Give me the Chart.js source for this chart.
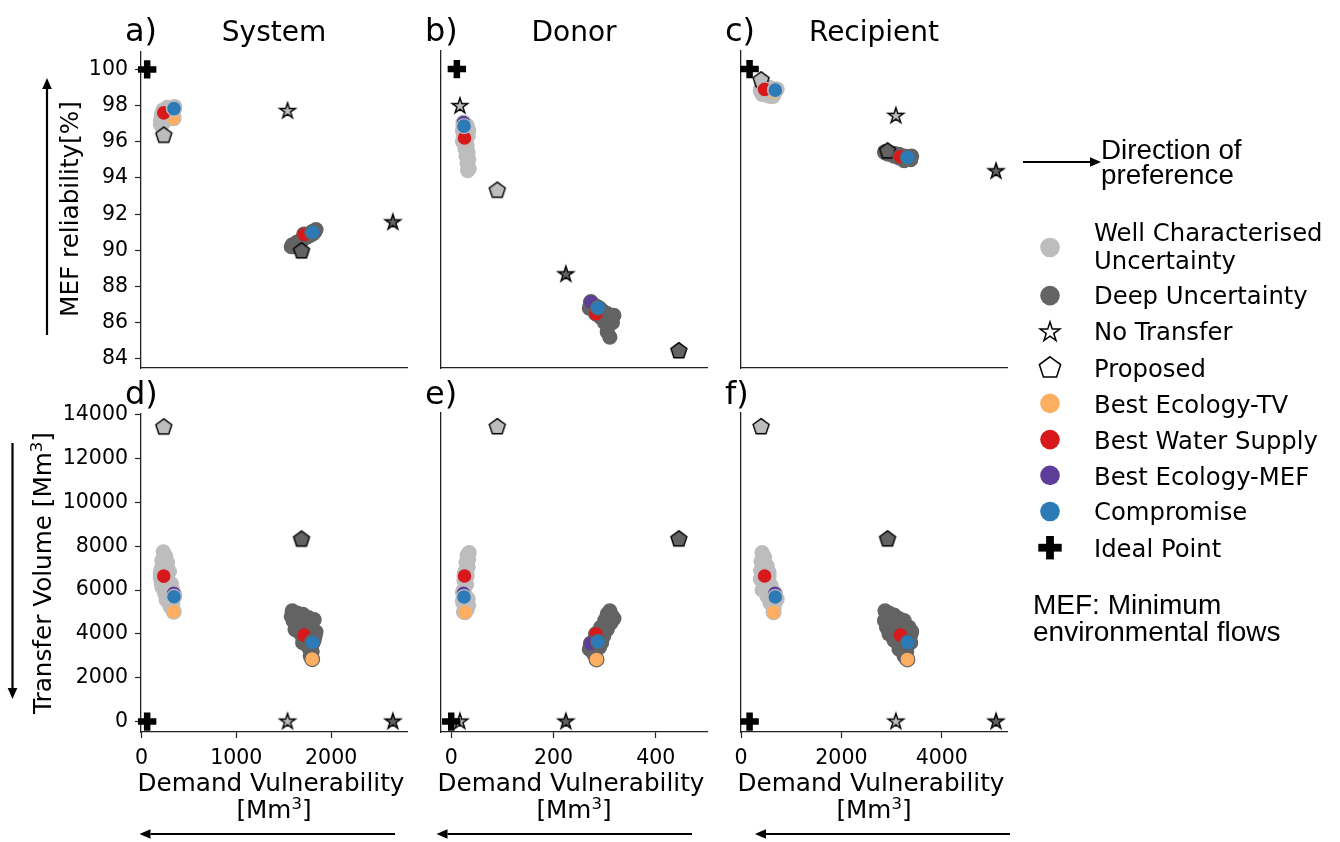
<!DOCTYPE html>
<html><head><meta charset="utf-8">
<script src="https://cdn.jsdelivr.net/npm/chart.js@4.4.1/dist/chart.umd.min.js"></script>
<style>
html,body{margin:0;padding:0;background:#fff;}
body{width:1340px;height:842px;position:relative;overflow:hidden;}
canvas.p{position:absolute;}
svg#ov{position:absolute;left:0;top:0;pointer-events:none;}
</style></head><body>
<canvas id="pa" class="p"></canvas><canvas id="pb" class="p"></canvas><canvas id="pc" class="p"></canvas>
<canvas id="pd" class="p"></canvas><canvas id="pe" class="p"></canvas><canvas id="pf" class="p"></canvas>
<svg id="ov" width="1340" height="842" font-family="DejaVu Sans"></svg>
<script>
// ---------------- tick labels ----------------
const mefTicks = [84, 86, 88, 90, 92, 94, 96, 98, 100];
const tvTicks = [0, 2000, 4000, 6000, 8000, 10000, 12000, 14000];
const systemTicks = [0, 1000, 2000];
const donorTicks = [0, 200, 400];
const recipientTicks = [0, 2000, 4000];

// ---------------- data: [demand vulnerability, MEF reliability %, transfer volume] ----------------
const systemWellChar = [[230,97.05,7750],[255,97.2,7550],[215,96.95,7350],[275,97.35,7250],[205,96.9,6950],[225,97.75,6900],[295,97.45,6850],[200,97.2,6750],[200,96.95,6550],[255,97.3,6450],[210,97.5,6300],[315,97.65,6300],[215,97.15,6150],[330,97.75,6000],[245,97.45,5850],[350,97.95,5750],[270,97.9,5700],[260,97.6,5550],[330,97.85,5400],[300,97.8,5250],[340,97.7,5050]];
const systemDeep = [[1590,90.3,5050],[1580,90.2,4800],[1640,90.45,4950],[1700,90.6,4900],[1760,90.8,4750],[1820,91.0,4650],[1600,90.2,4600],[1650,90.4,4400],[1720,90.7,4500],[1800,90.9,4300],[1840,91.15,4100],[1620,90.25,4200],[1680,90.5,4000],[1750,90.75,3800],[1830,91.05,3900],[1700,90.6,3600],[1820,91.0,3700],[1760,90.8,3400],[1800,90.9,3200],[1780,90.85,3000]];
const systemNoTransfer = [[1540,97.7,0],[2651,91.55,0]];
const systemProposed = [[235,96.35,13436],[1688,89.96,8318]];
const systemBestTV = [[340,97.3,5010],[1800,90.95,2850]];
const systemBestWS = [[235,97.6,6640],[1715,90.88,3944]];
const systemBestMEF = [[340,97.88,5850],[1800,91.0,3650]];
const systemCompromise = [[343,97.83,5695],[1805,91.0,3610]];
const systemIdealMEF = [60, 100];
const systemIdealTV = [60, 0];

const donorWellChar = [[24,97.0,5000],[31,96.9,5100],[26,96.8,5250],[23,96.9,5400],[34,96.6,5300],[22,96.6,5500],[33,96.3,5600],[28,96.5,5750],[22,96.0,5900],[24,96.3,6000],[30,96.2,6250],[25,96.0,6450],[31,95.8,6650],[26,96.1,6700],[27,95.6,6850],[33,95.4,7050],[29,95.2,7250],[34,95.0,7400],[31,94.8,7550],[32,94.4,7600],[35,94.5,7700]];
const donorDeep = [[310,85.2,5050],[305,85.5,4900],[315,86.0,4800],[318,86.4,4700],[300,86.0,4600],[312,86.3,4500],[300,86.2,4400],[292,86.3,4300],[305,86.5,4200],[285,86.6,4000],[298,86.6,3900],[280,86.9,3700],[294,86.7,3600],[272,87.0,3500],[290,86.8,3400],[284,86.9,3300],[270,86.8,3300],[278,87.0,3100]];
const donorNoTransfer = [[17,97.96,0],[224,88.67,0]];
const donorProposed = [[90,93.3,13436],[445,84.44,8318]];
const donorBestTV = [[27,96.15,4982],[284,86.6,2834]];
const donorBestWS = [[26,96.2,6640],[283,86.5,3990]];
const donorBestMEF = [[24,97.05,5850],[273,87.14,3565]];
const donorCompromise = [[25,96.85,5680],[287,86.83,3638]];
const donorIdealMEF = [11, 100];
const donorIdealTV = [0, 0];

const recipientWellChar = [[420,98.9,7700],[470,98.9,7500],[400,98.95,7300],[520,98.85,7100],[390,98.9,6900],[560,98.8,6800],[560,99.0,6600],[385,98.8,6500],[480,98.75,6300],[600,98.7,6200],[420,98.6,6000],[640,98.7,5900],[520,98.55,5700],[720,98.9,5600],[700,98.8,5500],[580,98.5,5400],[660,98.6,5200],[640,98.5,5000]];
const recipientDeep = [[2870,95.45,5050],[2950,95.4,4950],[3050,95.35,4850],[3150,95.3,4700],[2860,95.4,4600],[3250,95.2,4600],[3000,95.3,4500],[2900,95.35,4300],[3350,95.1,4300],[3100,95.25,4200],[3400,95.2,4100],[2950,95.3,4000],[3380,95.05,3950],[3200,95.15,3900],[3050,95.2,3700],[3380,95.0,3600],[3250,95.1,3500],[3150,95.1,3300],[3300,95.0,3200],[3250,94.95,3000]];
const recipientNoTransfer = [[3085,97.42,0],[5081,94.36,0]];
const recipientProposed = [[400,99.39,13436],[2920,95.47,8318]];
const recipientBestTV = [[650,98.72,4982],[3316,95.05,2834]];
const recipientBestWS = [[470,98.88,6640],[3175,95.16,3944]];
const recipientBestMEF = [[676,98.88,5850],[3330,95.12,3560]];
const recipientCompromise = [[683,98.84,5680],[3323,95.12,3610]];
const recipientIdealMEF = [171, 100];
const recipientIdealTV = [171, 0];

// ---------------- styling ----------------
const LIGHT = '#bdbdbd', DARK = '#636363';
const C_TV = '#fdae61', C_WS = '#d7191c', C_MEF = '#5e3c99', C_COMP = '#2c7bb6';
Chart.defaults.font.family = 'DejaVu Sans';
Chart.defaults.color = '#000';

function starPts(cx, cy, r) {
  const pts = [];
  for (let i = 0; i < 10; i++) {
    const a = -Math.PI / 2 + i * Math.PI / 5;
    const rr = i % 2 === 0 ? r : r * 0.381966;
    pts.push([cx + rr * Math.cos(a), cy + rr * Math.sin(a)]);
  }
  return pts;
}
function pentPts(cx, cy, r) {
  const pts = [];
  for (let i = 0; i < 5; i++) {
    const a = -Math.PI / 2 + i * 2 * Math.PI / 5;
    pts.push([cx + r * Math.cos(a), cy + r * Math.sin(a)]);
  }
  return pts;
}
function markerCanvas(kind, fill, r, lw) {
  const s = Math.ceil(2 * r + 2 * lw + 4);
  const c = document.createElement('canvas');
  c.width = s; c.height = s;
  const ctx = c.getContext('2d');
  const pts = kind === 'star' ? starPts(s / 2, s / 2, r) : pentPts(s / 2, s / 2, r);
  ctx.beginPath();
  pts.forEach((p, i) => i ? ctx.lineTo(p[0], p[1]) : ctx.moveTo(p[0], p[1]));
  ctx.closePath();
  ctx.fillStyle = fill; ctx.fill();
  ctx.lineWidth = lw; ctx.strokeStyle = '#000'; ctx.lineJoin = 'miter'; ctx.stroke();
  return c;
}
const starLight = markerCanvas('star', LIGHT, 8.3, 1.4), starDark = markerCanvas('star', DARK, 8.3, 1.4);
const pentLight = markerCanvas('pent', LIGHT, 8.4, 1.4), pentDark = markerCanvas('pent', DARK, 8.4, 1.4);

const cols = [
  {name:'System', min:-5, max:2800, ticks:systemTicks, wc:systemWellChar, du:systemDeep, nt:systemNoTransfer, pr:systemProposed,
   tv:systemBestTV, ws:systemBestWS, mef:systemBestMEF, comp:systemCompromise, idealTop:systemIdealMEF, idealBot:systemIdealTV, l:141, r:407},
  {name:'Donor', min:-20, max:500, ticks:donorTicks, wc:donorWellChar, du:donorDeep, nt:donorNoTransfer, pr:donorProposed,
   tv:donorBestTV, ws:donorBestWS, mef:donorBestMEF, comp:donorCompromise, idealTop:donorIdealMEF, idealBot:donorIdealTV, l:441, r:707},
  {name:'Recipient', min:0, max:5300, ticks:recipientTicks, wc:recipientWellChar, du:recipientDeep, nt:recipientNoTransfer, pr:recipientProposed,
   tv:recipientBestTV, ws:recipientBestWS, mef:recipientBestMEF, comp:recipientCompromise, idealTop:recipientIdealMEF, idealBot:recipientIdealTV, l:741, r:1007}
];
const rows = [
  {key:1, t:51, b:368, min:83.5, max:101.0, ticks:mefTicks},
  {key:2, t:413, b:732, min:-475, max:14070, ticks:tvTicks}
];
const ids = [['pa','pb','pc'],['pd','pe','pf']];

function panelConfig(ri, ci, PL, PB, PT, PR) {
  const col = cols[ci], row = rows[ri];
  const pick = arr => arr.map(p => ({x: p[0], y: p[row.key]}));
  const ideal = ri === 0 ? col.idealTop : col.idealBot;
  const coloured = (arr, color, ord) => ({data: pick(arr), pointStyle:'circle', pointRadius:7.4, pointBorderWidth:1.2,
    pointBackgroundColor: color, pointBorderColor: [LIGHT, DARK], order: ord, clip:false});
  const datasets = [
    {data:[{x: ideal[0], y: ideal[1]}], pointStyle:'cross', pointRadius:9.2, pointBorderWidth:6.5, pointBorderColor:'#000', pointBackgroundColor:'#000', order:0, clip:false},
    coloured(col.comp, C_COMP, 1),
    coloured(col.mef, C_MEF, 2),
    coloured(col.ws, C_WS, 3),
    coloured(col.tv, C_TV, 4),
    {data: pick(col.pr), pointStyle:[pentLight, pentDark], pointRadius:8, order:5, clip:false},
    {data: pick(col.nt), pointStyle:[starLight, starDark], pointRadius:8, order:6, clip:false},
    {data: pick(col.du), pointStyle:'circle', pointRadius:7.6, pointBorderWidth:0, pointBackgroundColor:DARK, pointBorderColor:DARK, order:7, clip:false},
    {data: pick(col.wc), pointStyle:'circle', pointRadius:7.6, pointBorderWidth:0, pointBackgroundColor:LIGHT, pointBorderColor:LIGHT, order:8, clip:false}
  ];
  const showX = ri === 1, showY = ci === 0;
  const axisCommon = (show, tickArr) => ({
    type:'linear',
    afterBuildTicks: s => { s.ticks = tickArr.map(v => ({value: v})); },
    ticks:{display:show, font:{size:20.5}, color:'#000', callback: v => String(v), autoSkip:false, maxRotation:0, minRotation:0},
    grid:{display:show, drawOnChartArea:false, drawTicks:true, tickLength:6, color:'#222', tickColor:'#222', tickWidth:1.2},
    border:{display:true, color:'#222', width:1.3}
  });
  const xs = axisCommon(showX, col.ticks);
  xs.min = col.min; xs.max = col.max; xs.ticks.padding = 8;
  xs.afterFit = s => { s.height = PB; };
  const ys = axisCommon(showY, row.ticks);
  ys.min = row.min; ys.max = row.max; ys.ticks.padding = 7;
  ys.afterFit = s => { s.width = PL; };
  return {
    type:'scatter',
    data:{datasets},
    options:{
      responsive:false, animation:false, devicePixelRatio:1, events:[],
      layout:{padding:{left:0, top:PT, right:PR, bottom:0}, autoPadding:false},
      plugins:{legend:{display:false}, tooltip:{enabled:false}},
      scales:{x:xs, y:ys}
    }
  };
}

function makePanel(ri, ci) {
  const col = cols[ci], row = rows[ri];
  const PL = 100, PT = 14, PR = 16, PB = 60;
  const cv = document.getElementById(ids[ri][ci]);
  const aw = col.r - col.l, ah = row.b - row.t;
  let w = aw + PL + PR, h = ah + PT + PB;
  cv.width = w; cv.height = h;
  // first pass: measure where the library puts the plot area
  let ch = new Chart(cv, panelConfig(ri, ci, PL, PB, PT, PR));
  const ca = ch.chartArea;
  const padL = ca.left, padT = ca.top, padR = w - ca.right, padB = h - ca.bottom;
  ch.destroy();
  w = Math.round(padL + aw + padR); h = Math.round(padT + ah + padB);
  cv.width = w; cv.height = h;
  cv.style.width = w + 'px'; cv.style.height = h + 'px';
  cv.style.left = (col.l - padL) + 'px'; cv.style.top = (row.t - padT) + 'px';
  new Chart(cv, panelConfig(ri, ci, PL, PB, PT, PR));
}
for (let ri = 0; ri < 2; ri++) for (let ci = 0; ci < 3; ci++) makePanel(ri, ci);

// ---------------- text, arrows and legend (SVG overlay) ----------------
const svg = document.getElementById('ov');
let s = '';
const T = (x, y, str, size, extra) => { s += `<text x="${x}" y="${y}" font-size="${size}" fill="#000" ${extra || ''}>${str}</text>`; };
const letters = [['a)','b)','c)'],['d)','e)','f)']];
const sup = '[Mm<tspan dy="-9" font-size="16.5">3</tspan><tspan dy="9">]</tspan>';
cols.forEach((c, ci) => {
  const cx = (c.l + c.r) / 2;
  T(c.l - 16, 40.5, letters[0][ci], 32);
  T(c.l - 16, 404, letters[1][ci], 32);
  T(cx, 40.5, c.name, 28, 'text-anchor="middle"');
  T(cx - 3, 790.5, 'Demand Vulnerability', 24.7, 'text-anchor="middle"');
  T(cx, 818, sup, 24.7, 'text-anchor="middle"');
});
T(0, 0, 'MEF reliability[%]', 24.7, 'text-anchor="middle" transform="translate(77.5,209) rotate(-90)"');
T(0, 0, 'Transfer Volume ' + sup, 24.7, 'text-anchor="middle" transform="translate(51,573) rotate(-90)"');

function arrow(x1, y1, x2, y2) {
  const dx = x2 - x1, dy = y2 - y1, L = Math.hypot(dx, dy), ux = dx / L, uy = dy / L;
  const hl = 11, hw = 4.8;
  const bx = x2 - ux * hl, by = y2 - uy * hl;
  s += `<line x1="${x1}" y1="${y1}" x2="${bx}" y2="${by}" stroke="#000" stroke-width="2.2"/>`;
  s += `<polygon points="${x2},${y2} ${bx - uy * hw},${by + ux * hw} ${bx + uy * hw},${by - ux * hw}" fill="#000"/>`;
}
arrow(47, 335, 47, 78);
arrow(12.5, 443, 12.5, 699);
arrow(395, 834, 139.5, 834);
arrow(692, 834, 436.5, 834);
arrow(1010, 834, 755, 834);
arrow(1023, 162, 1101, 162);
T(1101, 158.6, 'Direction of', 27.8, 'font-family="Liberation Sans"');
T(1101, 183.7, 'preference', 27.8, 'font-family="Liberation Sans"');
T(1033, 614, 'MEF: Minimum', 28, 'font-family="Liberation Sans"');
T(1033, 640.7, 'environmental flows', 28, 'font-family="Liberation Sans"');

// legend
const LX = 1050, TX = 1094;
const LF = 24.3;
const poly = pts => pts.map(p => p[0].toFixed(2) + ',' + p[1].toFixed(2)).join(' ');
s += `<circle cx="${LX}" cy="247.5" r="9.8" fill="${LIGHT}"/>`;
T(TX, 240.5, 'Well Characterised', LF); T(TX, 268.8, 'Uncertainty', LF);
s += `<circle cx="${LX}" cy="295.6" r="9.8" fill="${DARK}"/>`; T(TX, 304.2, 'Deep Uncertainty', LF);
s += `<polygon points="${poly(starPts(LX, 332.3, 10.3))}" fill="#fff" stroke="#000" stroke-width="1.5"/>`; T(TX, 340.4, 'No Transfer', LF);
s += `<polygon points="${poly(pentPts(LX, 368, 11.2))}" fill="#fff" stroke="#000" stroke-width="1.5"/>`; T(TX, 376.5, 'Proposed', LF);
s += `<circle cx="${LX}" cy="403.4" r="9.8" fill="${C_TV}"/>`; T(TX, 412.7, 'Best Ecology-TV', LF);
s += `<circle cx="${LX}" cy="439.6" r="9.8" fill="${C_WS}"/>`; T(TX, 448.9, 'Best Water Supply', LF);
s += `<circle cx="${LX}" cy="475.4" r="9.8" fill="${C_MEF}"/>`; T(TX, 485, 'Best Ecology-MEF', LF);
s += `<circle cx="${LX}" cy="511.5" r="9.8" fill="${C_COMP}"/>`; T(TX, 520.1, 'Compromise', LF);
s += `<rect x="${LX - 11.7}" y="${547.7 - 3.9}" width="23.4" height="7.8" fill="#000"/><rect x="${LX - 3.9}" y="${547.7 - 11.7}" width="7.8" height="23.4" fill="#000"/>`;
T(TX, 556.6, 'Ideal Point', LF);
svg.innerHTML = s;
</script>
</body></html>
